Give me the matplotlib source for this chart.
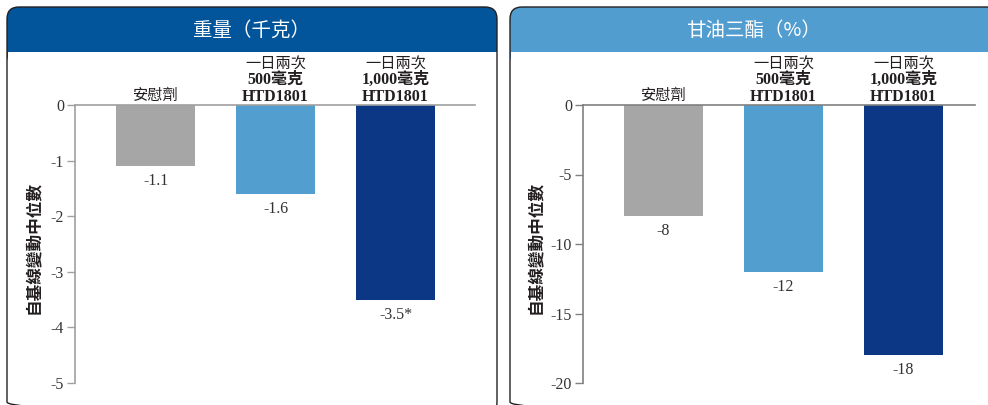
import matplotlib
matplotlib.use("Agg")
import matplotlib.pyplot as plt
from matplotlib.patches import FancyBboxPatch, Rectangle
from matplotlib.ticker import FixedLocator, FixedFormatter

# ---- data ----
category_lines = [["安慰劑"], ["一日兩次", "500毫克", "HTD1801"], ["一日兩次", "1,000毫克", "HTD1801"]]
weight_values = [-1.1, -1.6, -3.5]
weight_labels = ["-1.1", "-1.6", "-3.5*"]
tg_values = [-8, -12, -18]
tg_labels = ["-8", "-12", "-18"]
weight_ticks = [0, -1, -2, -3, -4, -5]
tg_ticks = [0, -5, -10, -15, -20]
titles = ["重量（千克）", "甘油三酯（%）"]
ylabel = "自基線變動中位數"
bar_colors = ["#a6a6a6", "#519ecf", "#0c3784"]
header_colors = ["#02559b", "#529dcf"]

SERIF = "Liberation Serif"
CJK = "Noto Sans CJK TC"
W, H = 988, 405

fig = plt.figure(figsize=(W / 100, H / 100), dpi=100)
bg = fig.add_axes([0, 0, 1, 1])
bg.set_xlim(0, W)
bg.set_ylim(H, 0)
bg.axis("off")

def panel(x0, x1, color, title, title_x):
    top, bottom, r = 7, 414, 12
    hb = 52
    hdr = FancyBboxPatch((x0, top), x1 - x0, 60, boxstyle=f"round,pad=0,rounding_size={r}",
                         fc=color, ec="none", zorder=1)
    bg.add_patch(hdr)
    bg.add_patch(Rectangle((x0 + 0.5, hb), x1 - x0 - 1, 40, fc="white", ec="none", zorder=2))
    frame = FancyBboxPatch((x0, top), x1 - x0, bottom - top, boxstyle=f"round,pad=0,rounding_size={r}",
                           fc="none", ec="#231f20", lw=1.0, zorder=3)
    bg.add_patch(frame)
    bg.text(title_x, (top + hb) / 2 + 1, title, color="white",
            fontsize=14, family=[CJK], ha="center", va="center", zorder=4)

panel(7, 497, header_colors[0], titles[0], 251)
panel(510, 1000, header_colors[1], titles[1], 754)

def px_axes(xl, xr, ytop, ybot):
    return fig.add_axes([xl / W, 1 - ybot / H, (xr - xl) / W, (ybot - ytop) / H])

def draw_chart(ax, values, labels, ticks, width_units, spine_color, ylab_x):
    ax.set_facecolor("none")
    xs = list(range(len(values)))
    ax.bar(xs, values, width=0.658, color=bar_colors, zorder=2)
    left = -0.671
    ax.set_xlim(left, left + width_units)
    ax.set_ylim(min(ticks), 0)
    for s in ["bottom", "right"]:
        ax.spines[s].set_visible(False)
    for s in ["left", "top"]:
        ax.spines[s].set_color(spine_color)
        ax.spines[s].set_linewidth(1.2)
    ax.set_xticks([])
    ax.yaxis.set_major_locator(FixedLocator(ticks))
    ax.yaxis.set_major_formatter(FixedFormatter([str(t) for t in ticks]))
    ax.tick_params(axis="y", length=6, width=1.0, color=spine_color, pad=2,
                   labelsize=11.5, labelcolor="#333333")
    for lab in ax.get_yticklabels():
        lab.set_family(SERIF)
    for x, v, l in zip(xs, values, labels):
        ax.annotate(l, (x, v), xytext=(0, -5), textcoords="offset points", ha="center", va="top",
                    fontsize=11.5, family=[SERIF], color="#333333", zorder=3)
    for x, lines in zip(xs, category_lines):
        n = len(lines)
        for k, line in enumerate(lines):
            off = 6 + (n - 1 - k) * 12.4
            cjk_only = all(ord(c) > 0x2E80 for c in line)
            if cjk_only:
                shift = -1.5 if n > 1 else 0.8
                ax.annotate(line, (x, 0), xytext=(0, off + shift), textcoords="offset points",
                            ha="center", va="center", fontsize=11, family=[CJK],
                            weight="medium", color="#231f20", annotation_clip=False)
            else:
                ax.annotate(line, (x, 0), xytext=(0, off), textcoords="offset points",
                            ha="center", va="center", fontsize=11.5, family=[SERIF, CJK],
                            weight="bold", color="#231f20", annotation_clip=False)
    bg.text(ylab_x, 247, ylabel, rotation=90, ha="center", va="center", fontsize=12,
            family=[CJK], weight="bold", color="#231f20", zorder=4)

ax1 = px_axes(75, 475, 105, 383)
draw_chart(ax1, weight_values, weight_labels, weight_ticks, 400 / 120, "#a0a0a0", 33)
ax2 = px_axes(583, 975, 105, 383)
draw_chart(ax2, tg_values, tg_labels, tg_ticks, 392 / 120, "#808080", 535)

fig.savefig("out.png", dpi=100)
